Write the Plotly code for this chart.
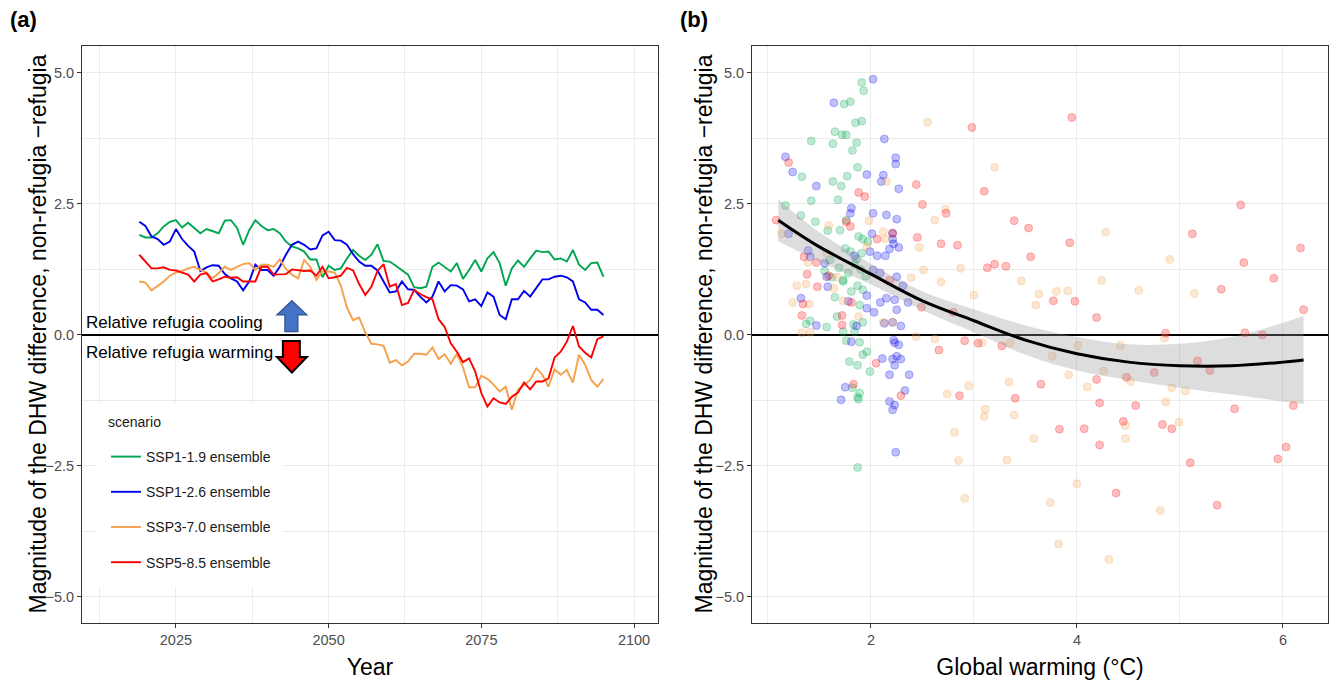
import plotly.graph_objects as go

FONT = "Liberation Sans, Arial, sans-serif"

# ---------------- Panel (a) data: ensemble time series ----------------
years = list(range(2019, 2096))

ssp119 = [1.91, 1.86, 1.86, 1.94, 2.07, 2.16, 2.19, 2.05, 2.14, 2.04, 1.94, 2.02, 1.98, 1.94, 2.18, 2.19,
          2.04, 1.72, 2.00, 2.19, 2.08, 2.00, 2.02, 1.94, 1.78, 1.69,
          1.65, 1.59, 1.44, 1.44, 1.10, 1.32, 1.24, 1.27, 1.46, 1.62, 1.51, 1.43, 1.53, 1.73, 1.41, 1.40,
          1.32, 1.23, 1.15, 0.91, 0.89, 0.92, 1.30, 1.38, 1.30, 1.21,
          1.37, 1.07, 1.24, 1.43, 1.21, 1.46, 1.58, 1.37, 0.94, 1.27, 1.42, 1.30, 1.46, 1.61, 1.58, 1.59,
          1.44, 1.46, 1.40, 1.62, 1.34, 1.24, 1.37, 1.38, 1.11]

ssp126 = [2.16, 2.08, 1.88, 1.83, 1.72, 1.78, 2.02, 1.83, 1.70, 1.59, 1.22, 1.29, 1.33, 1.32, 1.16, 1.08,
          1.02, 0.85, 1.02, 1.34, 1.24, 1.24, 1.13, 1.30, 1.53, 1.72,
          1.78, 1.72, 1.63, 1.65, 1.90, 1.97, 1.81, 1.80, 1.72, 1.54, 1.40, 1.32, 1.32, 1.23, 1.02, 0.81,
          0.83, 1.02, 0.87, 0.86, 0.73, 0.62, 0.73, 1.02, 0.83, 0.95,
          0.94, 0.87, 0.64, 0.68, 0.55, 0.81, 0.73, 0.38, 0.30, 0.68, 0.68, 0.84, 0.73, 0.90, 1.06, 1.06,
          1.11, 1.13, 1.10, 1.02, 0.68, 0.62, 0.48, 0.48, 0.38]

ssp370 = [1.02, 1.00, 0.85, 0.94, 1.02, 1.13, 1.19, 1.22, 1.27, 1.30, 1.24, 1.19, 1.08, 1.18, 1.30, 1.24,
          1.30, 1.35, 1.37, 1.24, 1.34, 1.34, 1.30, 1.44, 1.26, 1.15,
          1.08, 1.43, 1.30, 1.05, 1.21, 1.21, 1.19, 0.94, 0.52, 0.28, 0.33, 0.05, -0.17, -0.18, -0.21, -0.53,
          -0.48, -0.58, -0.51, -0.36, -0.36, -0.38, -0.24, -0.46, -0.37, -0.55,
          -0.36, -0.62, -1.00, -1.00, -0.78, -0.84, -0.95, -1.08, -0.99, -1.43, -1.05, -0.95, -0.86, -0.64,
          -0.76, -0.99, -0.66, -0.76, -0.67, -0.91, -0.38, -0.57, -0.86, -0.99, -0.84]

ssp585 = [1.53, 1.40, 1.27, 1.27, 1.29, 1.24, 1.23, 1.19, 1.15, 1.02, 1.15, 1.18, 1.02, 1.06, 1.11, 1.09,
          1.10, 1.02, 1.02, 1.02, 1.30, 1.30, 1.15, 1.15, 1.16, 1.25,
          1.23, 1.22, 1.23, 1.13, 1.30, 1.08, 1.10, 1.13, 1.28, 1.23, 0.97, 0.76, 0.92, 1.22, 1.35, 0.92,
          0.97, 0.57, 0.61, 0.86, 0.78, 0.72, 0.68, 0.30, 0.15, -0.16,
          -0.32, -0.52, -0.45, -0.70, -1.11, -1.37, -1.21, -1.29, -1.32, -1.18, -1.10, -0.91, -1.04, -0.89,
          -0.89, -0.83, -0.43, -0.32, -0.13, 0.17, -0.22, -0.34, -0.43, -0.08, -0.03]

scenario_names = ["SSP1-1.9 ensemble", "SSP1-2.6 ensemble", "SSP3-7.0 ensemble", "SSP5-8.5 ensemble"]

# ---------------- Panel (b) data: warming vs DHW difference ----------------
g119_x = [1.91, 1.93, 1.74, 1.80, 1.85, 1.91, 1.65, 1.72, 1.76, 1.63, 1.86, 1.82, 1.42, 1.87, 1.33, 1.77,
          1.63, 1.71, 1.68, 1.42, 1.17, 1.32, 1.46, 1.58, 1.70, 1.76, 1.88, 1.92, 1.97, 1.75, 1.80, 1.91,
          1.60, 1.73, 1.78, 1.84, 1.90, 1.95, 1.69, 1.55, 1.62, 1.86,
          1.65, 1.73, 1.81, 1.87, 1.92, 1.89, 1.92, 1.83, 1.73, 1.84, 1.37, 1.41, 1.57, 1.76, 1.89, 1.96,
          1.92, 1.79, 1.87, 1.99, 1.82, 1.89, 1.87, 1.88, 1.87, 1.67]
g119_y = [4.82, 4.66, 4.41, 4.45, 4.05, 4.08, 3.88, 3.82, 3.82, 3.65, 3.67, 3.52, 3.70, 3.20, 3.02, 3.03,
          2.93, 2.84, 2.58, 2.56, 2.47, 2.28, 2.16, 1.99, 2.00, 2.19, 1.88, 1.83, 1.78, 1.65, 1.59, 1.56,
          1.43, 1.05, 1.18, 1.35, 1.25, 1.12, 1.28, 1.22, 1.10, 1.45,
          0.72, 1.02, 0.83, 0.94, 0.86, 0.57, 0.24, 0.20, 0.06, 0.06, 0.21, 0.27, 0.15, -0.11, -0.14, -0.32,
          -0.38, -0.51, -0.58, -0.70, -1.01, -1.11, -1.19, -1.23, -2.53, 0.35]

g126_x = [2.02, 1.64, 2.13, 1.17, 1.24, 2.24, 2.24, 1.96, 2.12, 2.10, 1.47, 2.27, 1.81, 1.80, 2.02, 2.15,
          2.25, 2.01, 2.21, 2.21, 2.22, 2.18, 2.27, 1.84, 2.06, 2.14, 1.99, 1.39, 1.41, 1.20, 2.02, 2.09,
          2.25, 1.55, 1.57,
          1.58, 1.32, 1.47, 1.78, 1.96, 1.96, 1.86, 2.03, 2.09, 2.15, 2.23, 2.25, 2.36, 2.31, 2.13, 2.21,
          2.29, 2.22, 2.23, 2.27, 2.25, 2.21, 2.29, 2.11, 2.23, 2.18, 2.37, 2.33, 1.75, 1.71, 2.18, 2.23,
          2.21, 2.24, 1.81]
g126_y = [4.88, 4.43, 3.74, 3.40, 3.11, 3.38, 3.26, 3.06, 3.05, 2.93, 2.84, 2.79, 2.42, 2.32, 2.32, 2.29,
          2.21, 1.93, 1.94, 1.83, 1.74, 1.64, 1.67, 1.51, 1.51, 1.51, 1.59, 1.61, 1.49, 1.93, 1.24, 1.18,
          1.11, 1.37, 1.11,
          0.92, 0.70, 0.18, 0.64, 0.75, 0.51, 0.17, 0.43, 0.62, 0.70, 0.67, 0.48, 0.62, 0.94, 0.22, 0.24,
          0.17, -0.10, -0.15, -0.19, -0.41, -0.46, -0.46, -0.45, -0.58, -0.76, -0.76, -1.06, -1.00, -1.24,
          -1.27, -1.34, -1.43, -2.24, -0.13]

g370_x = [2.55, 3.20, 2.15, 2.72, 2.62, 1.59, 1.98, 2.12, 2.14, 2.47, 1.96, 1.13, 1.39, 1.57, 1.67, 1.28,
          1.37, 2.51, 2.39, 2.68, 2.87, 3.46,
          1.24, 1.40, 1.33, 1.41, 1.64, 1.73, 1.88, 2.12, 2.21, 2.44, 2.62, 3.00, 3.08, 3.35, 3.34, 2.95,
          2.74, 3.11, 3.10, 3.39, 2.81, 2.85, 3.32, 2.91,
          4.28, 4.90, 4.24, 3.63, 3.80, 3.91, 3.60, 4.60, 5.14, 4.01, 4.42, 3.76, 4.85, 4.26, 3.92, 4.10,
          4.52, 4.92, 5.05, 4.86, 4.99, 4.47, 4.47, 3.58, 4.00, 3.74, 4.81, 3.82, 4.31]
g370_y = [4.06, 3.20, 2.93, 2.40, 2.19, 2.09, 2.18, 1.97, 1.83, 1.67, 1.69, 1.93, 1.38, 1.56, 1.10, 0.94,
          0.97, 1.24, 1.09, 1.01, 1.27, 1.03,
          0.62, 0.59, 0.04, 0.05, 0.89, 0.65, 0.35, 0.24, 0.24, -0.03, -0.08, 0.76, -0.15, -0.16, -0.90, -0.97,
          -1.13, -1.42, -1.56, -1.53, -1.86, -2.40, -2.39, -3.12,
          1.96, 1.44, 1.04, 0.78, 0.83, 0.84, 0.57, 0.85, 0.79, -0.20, -0.20, -0.41, -0.06, -0.69, -0.76, -0.99,
          -0.89, -1.01, -1.07, -1.28, -1.67, -1.73, -1.98, -1.98, -2.84, -3.20, -3.35, -3.99, -4.29]

g585_x = [1.20, 2.44, 1.88, 1.94, 2.50, 2.73, 1.08, 1.76, 1.80, 2.06, 2.21, 2.45, 2.68, 2.84, 1.35, 1.47,
          1.38, 1.59, 1.48, 2.98, 3.10, 3.39, 3.53, 3.13, 3.20, 3.31, 2.18,
          1.34, 1.33, 1.72, 1.72, 1.81, 2.05, 2.66, 2.91, 3.04, 3.27, 2.86, 3.40, 2.29, 1.83, 2.80, 2.49,
          3.95, 3.93, 3.55, 3.77, 3.98, 4.19, 5.59, 5.12, 5.62, 5.91, 5.40, 6.17, 6.20, 4.86, 5.63, 5.80,
          5.17, 5.29, 4.75, 4.48, 4.19, 3.65,
          4.22, 4.57, 4.45, 4.83, 4.92, 5.53, 6.10, 3.83, 4.07, 4.22, 5.10, 6.03, 5.95, 4.38, 5.36]
g585_y = [3.29, 2.87, 2.72, 2.64, 2.49, 2.32, 2.19, 2.16, 2.07, 1.83, 1.94, 1.86, 1.74, 1.71, 1.49, 1.38,
          1.16, 1.13, 0.92, 3.96, 2.74, 2.18, 2.04, 1.28, 1.35, 1.31, 1.04,
          0.59, 0.37, 0.37, 0.19, 0.62, -0.54, -0.29, -0.11, -0.16, -0.21, -1.16, -1.21, -1.16, -0.94, 0.43, 0.53,
          4.15, 1.76, 1.49, 0.65, 0.64, 0.33, 2.48, 1.93, 1.38, 1.08, 0.87, 1.66, 0.48, 0.03, 0.04, 0.00,
          -0.50, -0.68, -0.72, -0.81, -0.85, -0.94,
          -1.30, -1.35, -1.65, -1.71, -1.79, -1.41, -1.35, -1.80, -1.79, -2.10, -2.44, -2.14, -2.37, -3.02, -3.25]

# fitted smooth curve with confidence band
smooth_x = [1.10, 1.50, 2.00, 2.50, 3.00, 3.50, 4.00, 4.50, 5.00, 5.50, 6.00, 6.20]
smooth_y = [2.19, 1.68, 1.16, 0.65, 0.27, -0.10, -0.36, -0.52, -0.59, -0.59, -0.52, -0.48]
smooth_se = [0.40, 0.28, 0.20, 0.18, 0.22, 0.28, 0.32, 0.34, 0.42, 0.55, 0.75, 0.84]

line_colors = ["#00A651", "#0000EE", "#F5A04A", "#FF0000"]
point_colors = ["rgba(0,166,81,0.25)", "rgba(0,0,238,0.25)", "rgba(245,160,74,0.25)", "rgba(255,0,0,0.25)"]

fig = go.Figure()

series = [ssp119, ssp126, ssp370, ssp585]
for name, vals, col in zip(scenario_names, series, line_colors):
    fig.add_trace(go.Scatter(x=years, y=vals, mode="lines", name=name, legendgroup=name,
                             line=dict(color=col, width=1.9), xaxis="x", yaxis="y"))

pts = [(g119_x, g119_y), (g126_x, g126_y), (g370_x, g370_y), (g585_x, g585_y)]
for (px, py), pc, name in zip(pts, point_colors, scenario_names):
    fig.add_trace(go.Scatter(x=px, y=py, mode="markers", showlegend=False, name=name,
                             marker=dict(size=8, color=pc, line=dict(color=pc, width=1)),
                             xaxis="x2", yaxis="y2"))

lo = [m - s for m, s in zip(smooth_y, smooth_se)]
hi = [m + s for m, s in zip(smooth_y, smooth_se)]
fig.add_trace(go.Scatter(x=smooth_x, y=lo, mode="lines", line=dict(width=0, shape="spline"),
                         showlegend=False, hoverinfo="skip", xaxis="x2", yaxis="y2"))
fig.add_trace(go.Scatter(x=smooth_x, y=hi, mode="lines", line=dict(width=0, shape="spline"),
                         fill="tonexty", fillcolor="rgba(153,153,153,0.33)",
                         showlegend=False, hoverinfo="skip", xaxis="x2", yaxis="y2"))
fig.add_trace(go.Scatter(x=smooth_x, y=smooth_y, mode="lines", line=dict(color="black", width=3, shape="spline"),
                         showlegend=False, xaxis="x2", yaxis="y2"))

W, H = 1331, 682
ya_dom = [1 - 623 / H, 1 - 46 / H]

axis_common = dict(showline=True, mirror=True, linecolor="#333333", linewidth=1,
                   ticks="outside", ticklen=4, tickwidth=1, tickcolor="#333333",
                   gridcolor="#EBEBEB", gridwidth=1.1, zeroline=False, automargin=False,
                   tickfont=dict(family=FONT, size=14.5, color="#4D4D4D"))

ytitle = "Magnitude of the DHW difference, non-refugia \u2212refugia"
TITLE_FONT = dict(family=FONT, size=23, color="black")

yaxis_common = dict(axis_common, range=[-5.5, 5.515], tick0=0, dtick=2.5, tickformat=".1f",
                    zeroline=True, zerolinecolor="black", zerolinewidth=1.6,
                    minor=dict(tick0=1.25, dtick=2.5, showgrid=True, gridcolor="#EBEBEB", gridwidth=0.55, ticks=""))

fig.update_layout(
    width=W, height=H, margin=dict(l=0, r=0, t=0, b=0, autoexpand=False),
    paper_bgcolor="white", plot_bgcolor="white",
    font=dict(family=FONT, color="black"),
    xaxis=dict(axis_common, domain=[82 / W, 658 / W], anchor="y", range=[2009.62, 2103.93],
               tick0=2025, dtick=25,
               minor=dict(tick0=2012.5, dtick=25, showgrid=True, gridcolor="#EBEBEB", gridwidth=0.55, ticks=""),
               title=dict(text="Year", font=TITLE_FONT, standoff=11)),
    yaxis=dict(yaxis_common, domain=ya_dom, anchor="x"),
    xaxis2=dict(axis_common, domain=[752 / W, 1328 / W], anchor="y2", range=[0.845, 6.437],
                tick0=2, dtick=2,
                minor=dict(tick0=1, dtick=2, showgrid=True, gridcolor="#EBEBEB", gridwidth=0.55, ticks=""),
                title=dict(text="Global warming (\u00b0C)", font=TITLE_FONT, standoff=11)),
    yaxis2=dict(yaxis_common, domain=ya_dom, anchor="x2"),
    legend=dict(x=106 / W, y=1 - 441 / H, xanchor="left", yanchor="top", bgcolor="white",
                font=dict(family=FONT, size=14, color="#1A1A1A"), tracegroupgap=14, itemwidth=30),
    showlegend=True,
)

# White legend key background (covers gridlines like the ggplot legend box) and legend title
fig.add_shape(type="rect", xref="paper", yref="paper", x0=97 / W, x1=283 / W, y0=1 - 587 / H, y1=1 - 403 / H,
              fillcolor="white", line=dict(width=0), layer="above")
fig.add_annotation(text="scenario", x=106 / W, y=1 - 422 / H, xref="paper", yref="paper",
                   xanchor="left", yanchor="middle", showarrow=False,
                   font=dict(family=FONT, size=14, color="#1A1A1A"))

# Y-axis titles (as rotated text, placed like the reference)
fig.add_annotation(text=ytitle, x=37 / W, y=1 - 334.5 / H, xref="paper", yref="paper", textangle=-90,
                   xanchor="center", yanchor="middle", showarrow=False, font=TITLE_FONT)
fig.add_annotation(text=ytitle, x=703 / W, y=1 - 334.5 / H, xref="paper", yref="paper", textangle=-90,
                   xanchor="center", yanchor="middle", showarrow=False, font=TITLE_FONT)

# Panel tags
fig.add_annotation(text="<b>(a)</b>", x=8 / W, y=1 - 5 / H, xref="paper", yref="paper",
                   xanchor="left", yanchor="top", showarrow=False, font=dict(family=FONT, size=22, color="black"))
fig.add_annotation(text="<b>(b)</b>", x=678 / W, y=1 - 5 / H, xref="paper", yref="paper",
                   xanchor="left", yanchor="top", showarrow=False, font=dict(family=FONT, size=22, color="black"))

# Cooling / warming labels with block arrows
fig.add_annotation(text="Relative refugia cooling", x=2009.9, y=0.235, xref="x", yref="y",
                   xanchor="left", yanchor="middle", showarrow=False, font=dict(family=FONT, size=17, color="black"))
fig.add_annotation(text="Relative refugia warming", x=2009.9, y=-0.34, xref="x", yref="y",
                   xanchor="left", yanchor="middle", showarrow=False, font=dict(family=FONT, size=17, color="black"))

up_arrow = "M 2043.99,0.655 L 2046.44,0.382 L 2044.97,0.382 L 2044.97,0.063 L 2042.84,0.063 L 2042.84,0.382 L 2041.53,0.382 Z"
down_arrow = "M 2042.51,-0.115 L 2045.29,-0.115 L 2045.29,-0.42 L 2046.44,-0.42 L 2043.99,-0.72 L 2041.53,-0.42 L 2042.51,-0.42 Z"
fig.add_shape(type="path", path=up_arrow, xref="x", yref="y", fillcolor="#4472C4",
              line=dict(color="#2F528F", width=1.2))
fig.add_shape(type="path", path=down_arrow, xref="x", yref="y", fillcolor="#FF0000",
              line=dict(color="black", width=2))

fig.write_html("out.html", config={"displayModeBar": False},
               post_script="document.body.style.margin='0px';")
